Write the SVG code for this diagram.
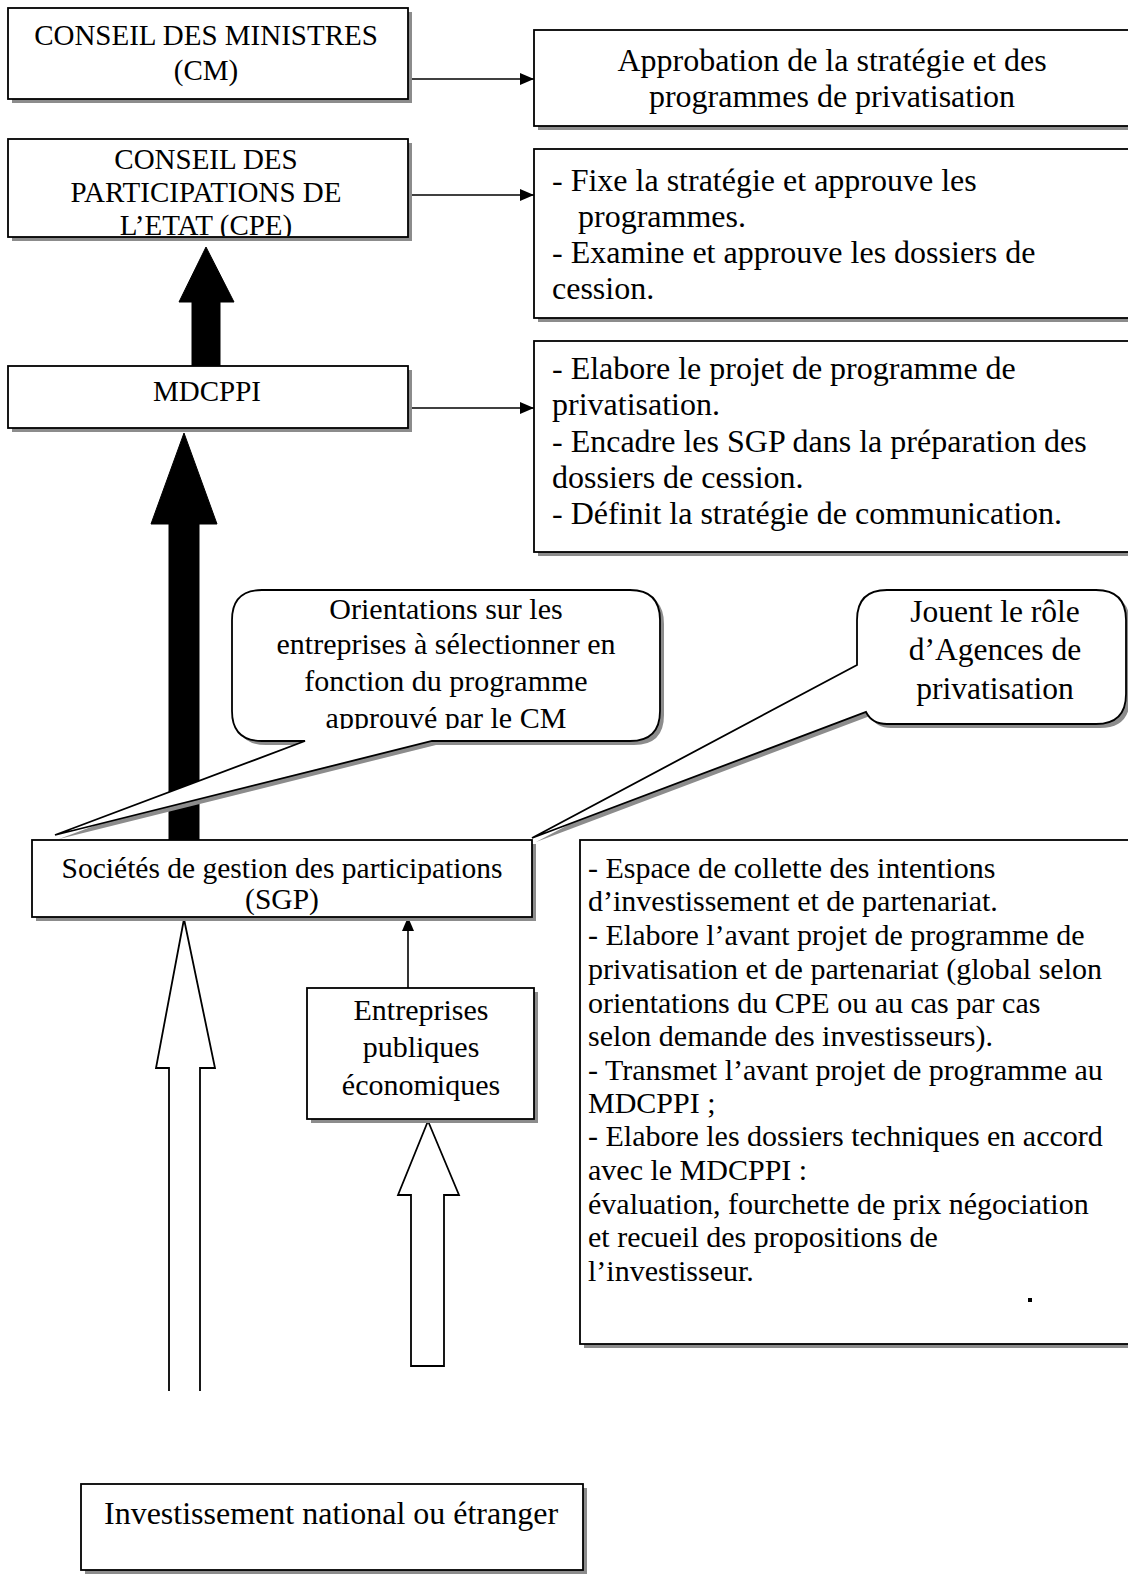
<svg xmlns="http://www.w3.org/2000/svg" width="1128" height="1580" viewBox="0 0 1128 1580">
<style>
.box{fill:#fff;stroke:#000;stroke-width:1.8}
.sh{fill:#8c8c8c}
.t{font-family:"Liberation Serif","Times New Roman",serif;fill:#000}
.c{text-anchor:middle}
.f29{font-size:29px}
.f30{font-size:30px}
.f32{font-size:32px}
.ln{stroke:#000;stroke-width:1.6;fill:none}
.blk{fill:#000;stroke:#000;stroke-width:1}
.hol{fill:#fff;stroke:#000;stroke-width:1.8}
</style>
<defs>
<marker id="ah" markerWidth="14" markerHeight="12" refX="14" refY="6" orient="auto" markerUnits="userSpaceOnUse">
<path d="M0,0 L14,6 L0,12 Z" fill="#000"/>
</marker>
<clipPath id="clipCPE"><rect x="8" y="139" width="400" height="97"/></clipPath>
<clipPath id="clipCO1"><rect x="232" y="590" width="428" height="139"/></clipPath>
</defs>

<g id="connectors">
<line class="ln" x1="408" y1="79" x2="534" y2="79" marker-end="url(#ah)"/>
<line class="ln" x1="408" y1="195" x2="534" y2="195" marker-end="url(#ah)"/>
<line class="ln" x1="408" y1="408" x2="534" y2="408" marker-end="url(#ah)"/>
<line class="ln" x1="408" y1="988" x2="408" y2="917" marker-end="url(#ah)"/>
<polygon class="blk" points="192,366 192,302 179,302 206,247 234,302 220,302 220,366"/>
<polygon class="blk" points="169,840 169,524 151,524 184,433 217,524 199,524 199,840"/>
<polyline class="hol" points="169,1391 169,1068 156,1068 184,919 215,1068 200,1068 200,1391"/>
<polygon class="hol" points="411,1366 411,1195 398,1195 428,1121 459,1195 444,1195 444,1366"/>
</g>

<g id="cm">
<rect class="sh" x="12" y="12" width="400" height="91"/>
<rect class="box" x="8" y="8" width="400" height="91"/>
<text class="t f29 c" x="206" y="45">CONSEIL DES MINISTRES</text>
<text class="t f29 c" x="206" y="80">(CM)</text>
</g>

<g id="approbation">
<rect class="sh" x="538" y="34" width="600" height="96"/>
<rect class="box" x="534" y="30" width="600" height="96"/>
<text class="t f32 c" x="832" y="71">Approbation de la stratégie et des</text>
<text class="t f32 c" x="832" y="107">programmes de privatisation</text>
</g>

<g id="cpe">
<rect class="sh" x="12" y="143" width="400" height="98"/>
<rect class="box" x="8" y="139" width="400" height="98"/>
<g clip-path="url(#clipCPE)">
<text class="t f29 c" x="206" y="169">CONSEIL DES</text>
<text class="t f29 c" x="206" y="202">PARTICIPATIONS DE</text>
<text class="t f29 c" x="206" y="235">L’ETAT  (CPE)</text>
</g>
</g>

<g id="fixe">
<rect class="sh" x="538" y="153" width="600" height="169"/>
<rect class="box" x="534" y="149" width="600" height="169"/>
<text class="t f32" x="552" y="191">- Fixe la stratégie et approuve les</text>
<text class="t f32" x="578" y="227">programmes.</text>
<text class="t f32" x="552" y="263">- Examine et approuve les dossiers de</text>
<text class="t f32" x="552" y="299">cession.</text>
</g>

<g id="mdcppi">
<rect class="sh" x="12" y="370" width="400" height="62"/>
<rect class="box" x="8" y="366" width="400" height="62"/>
<text class="t f29 c" x="207" y="401">MDCPPI</text>
</g>

<g id="elabore">
<rect class="sh" x="538" y="345" width="600" height="211"/>
<rect class="box" x="534" y="341" width="600" height="211"/>
<text class="t f32" x="552" y="379">- Elabore le projet de programme de</text>
<text class="t f32" x="552" y="415">privatisation.</text>
<text class="t f32" x="552" y="452">- Encadre les SGP dans la préparation des</text>
<text class="t f32" x="552" y="488">dossiers de cession.</text>
<text class="t f32" x="552" y="524">- Définit la stratégie de communication.</text>
</g>

<g id="callout-orientations">
<path class="sh" transform="translate(4,4)" d="M262,590 H630 Q660,590 660,620 V711 Q660,741 630,741 H432 L55,835 L305,741 H262 Q232,741 232,711 V620 Q232,590 262,590 Z"/>
<path class="box" d="M262,590 H630 Q660,590 660,620 V711 Q660,741 630,741 H432 L55,835 L305,741 H262 Q232,741 232,711 V620 Q232,590 262,590 Z"/>
<g clip-path="url(#clipCO1)">
<text class="t f30 c" x="446" y="619">Orientations sur les</text>
<text class="t f30 c" x="446" y="654">entreprises à sélectionner en</text>
<text class="t f30 c" x="446" y="691">fonction du programme</text>
<text class="t f30 c" x="446" y="728">approuvé par le CM</text>
</g>
</g>

<g id="callout-agences">
<path class="sh" transform="translate(4,4)" d="M887,590 H1096 Q1126,590 1126,620 V694 Q1126,724 1096,724 H887 Q872,724 866,712 L532,838 L857,665 V620 Q857,590 887,590 Z"/>
<path class="box" d="M887,590 H1096 Q1126,590 1126,620 V694 Q1126,724 1096,724 H887 Q872,724 866,712 L532,838 L857,665 V620 Q857,590 887,590 Z"/>
<text class="t c" style="font-size:31.5px" x="995" y="622">Jouent le rôle</text>
<text class="t c" style="font-size:31.5px" x="995" y="660">d’Agences de</text>
<text class="t c" style="font-size:31.5px" x="995" y="699">privatisation</text>
</g>

<g id="sgp">
<rect class="sh" x="36" y="844" width="500" height="77"/>
<rect class="box" x="32" y="840" width="500" height="77"/>
<text class="t c" style="font-size:29.5px" x="282" y="878">Sociétés de gestion des participations</text>
<text class="t c" style="font-size:29.5px" x="282" y="909">(SGP)</text>
</g>

<g id="espace">
<rect class="sh" x="584" y="844" width="555" height="504"/>
<rect class="box" x="580" y="840" width="555" height="504"/>
<text class="t f30" x="588" y="878">- Espace de collette des intentions</text>
<text class="t f30" x="588" y="911">d’investissement et de partenariat.</text>
<text class="t f30" x="588" y="945">- Elabore l’avant projet de programme de</text>
<text class="t f30" x="588" y="979">privatisation et de partenariat (global selon</text>
<text class="t f30" x="588" y="1013">orientations du CPE ou au cas par cas</text>
<text class="t f30" x="588" y="1046">selon demande des investisseurs).</text>
<text class="t f30" x="588" y="1080">- Transmet l’avant projet de programme au</text>
<text class="t f30" x="588" y="1113">MDCPPI ;</text>
<text class="t f30" x="588" y="1146">- Elabore les dossiers techniques en accord</text>
<text class="t f30" x="588" y="1180">avec le MDCPPI :</text>
<text class="t f30" x="588" y="1214">évaluation, fourchette de prix négociation</text>
<text class="t f30" x="588" y="1247">et recueil des propositions de</text>
<text class="t f30" x="588" y="1281">l’investisseur.</text>
<rect x="1028" y="1298" width="4" height="4" fill="#000"/>
</g>

<g id="entreprises">
<rect class="sh" x="311" y="992" width="227" height="131"/>
<rect class="box" x="307" y="988" width="227" height="131"/>
<text class="t f30 c" x="421" y="1020">Entreprises</text>
<text class="t f30 c" x="421" y="1057">publiques</text>
<text class="t f30 c" x="421" y="1095">économiques</text>
</g>

<g id="investissement">
<rect class="sh" x="85" y="1488" width="502" height="86"/>
<rect class="box" x="81" y="1484" width="502" height="86"/>
<text class="t f32" x="104" y="1524">Investissement national ou étranger</text>
</g>
</svg>
